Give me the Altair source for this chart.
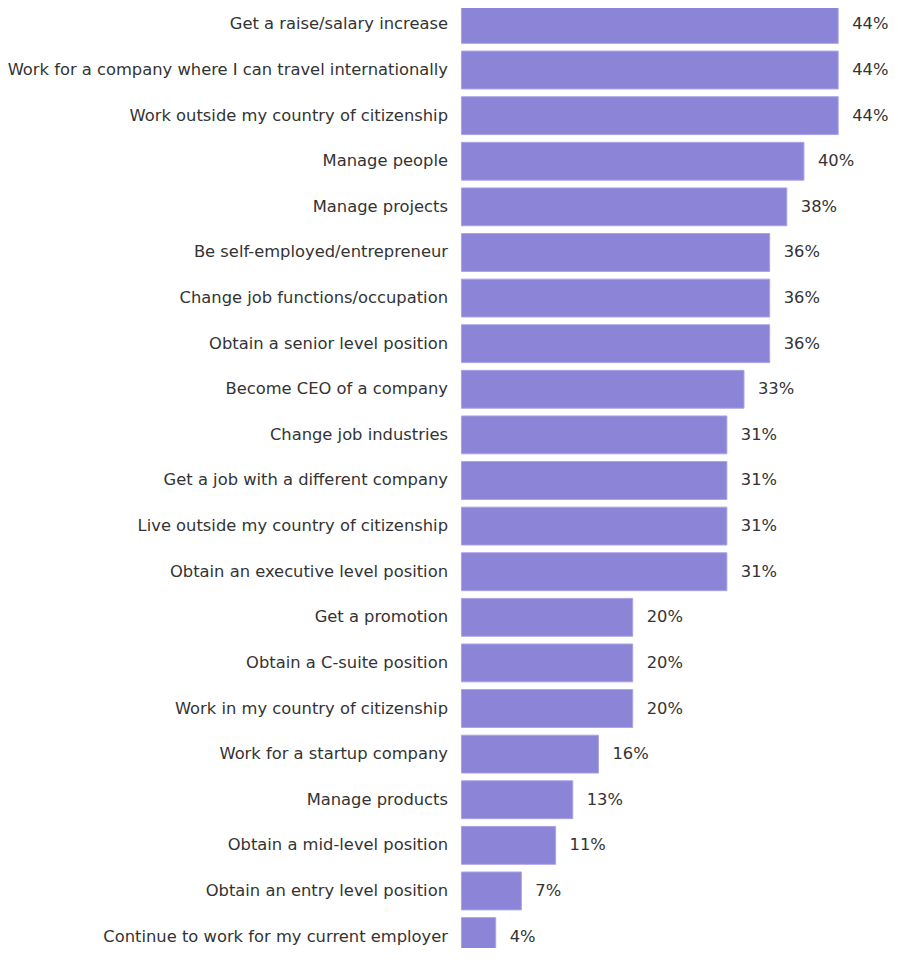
import altair as alt
import pandas as pd

categories = [
    "Get a raise/salary increase",
    "Work for a company where I can travel internationally",
    "Work outside my country of citizenship",
    "Manage people",
    "Manage projects",
    "Be self-employed/entrepreneur",
    "Change job functions/occupation",
    "Obtain a senior level position",
    "Become CEO of a company",
    "Change job industries",
    "Get a job with a different company",
    "Live outside my country of citizenship",
    "Obtain an executive level position",
    "Get a promotion",
    "Obtain a C-suite position",
    "Work in my country of citizenship",
    "Work for a startup company",
    "Manage products",
    "Obtain a mid-level position",
    "Obtain an entry level position",
    "Continue to work for my current employer",
]
values = [44, 44, 44, 40, 38, 36, 36, 36, 33, 31, 31, 31, 31, 20, 20, 20, 16, 13, 11, 7, 4]
labels = [f"{v}%" for v in values]

df = pd.DataFrame({"category": categories, "value": values, "label": labels})

FONT = "DejaVu Sans"
FS = 16.4
y = alt.Y(
    "category:N",
    sort=categories,
    title=None,
    scale=alt.Scale(paddingInner=0.17, paddingOuter=0.085, range=[0, 961]),
    axis=alt.Axis(
        domain=False,
        ticks=False,
        labelPadding=14,
        labelFont=FONT,
        labelFontSize=FS,
        labelColor="#333333",
        labelLimit=500,
    ),
)
x = alt.X("value:Q", title=None, axis=None, scale=alt.Scale(domain=[0, 44], range=[0, 378]))

bars = alt.Chart(df).mark_bar(color="#8B84D7", stroke="#A9A3E6", strokeWidth=1).encode(x=x, y=y)
text = alt.Chart(df).mark_text(
    align="left", baseline="middle", dx=14, font=FONT, fontSize=FS, color="#333333"
).encode(x=x, y=y, text="label:N")

chart = (
    alt.layer(bars, text)
    .properties(
        width=430,
        height=948,
        autosize=alt.AutoSizeParams(type="none"),
        padding={"left": 455, "top": -8, "right": 0, "bottom": 0},
    )
    .configure_view(stroke=None)
)

chart.save("out.html", embed_options={"renderer": "svg", "actions": False})
